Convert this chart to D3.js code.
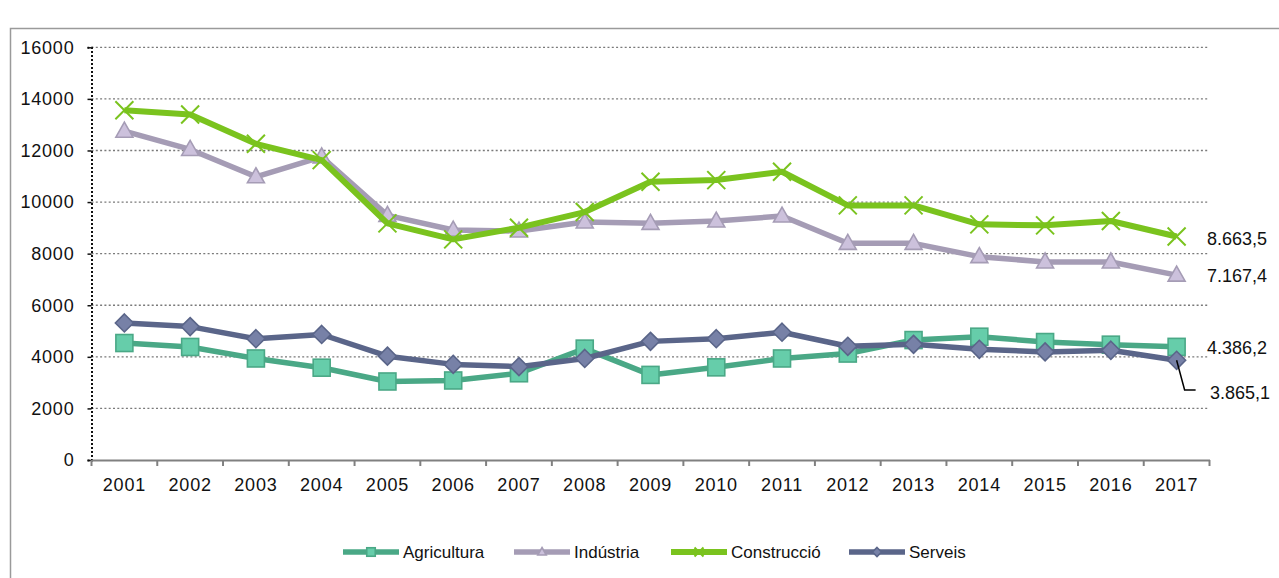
<!DOCTYPE html>
<html>
<head>
<meta charset="utf-8">
<script src="https://cdn.jsdelivr.net/npm/d3@7"></script>
<style>
  html, body { margin: 0; padding: 0; background: #fff; }
  svg { display: block; }
</style>
</head>
<body>
<svg id="chart" width="1279" height="578"></svg>
<script>
const years = ["2001","2002","2003","2004","2005","2006","2007","2008","2009","2010","2011","2012","2013","2014","2015","2016","2017"];
const agricultura = [4535, 4382, 3936, 3579, 3044, 3083, 3363, 4318, 3299, 3592, 3936, 4127, 4650, 4780, 4573, 4471, 4386.2];
const industria   = [12748, 12039, 10981, 11750, 9484, 8916, 8877, 9226, 9174, 9265, 9458, 8400, 8400, 7884, 7677, 7677, 7167.4];
const construccio = [13561, 13394, 12258, 11626, 9174, 8555, 9006, 9613, 10787, 10852, 11174, 9871, 9871, 9135, 9097, 9265, 8663.5];
const serveis     = [5312, 5172, 4701, 4866, 4025, 3707, 3618, 3936, 4599, 4701, 4955, 4408, 4484, 4293, 4191, 4255, 3865.1];
const yTicks = [0, 2000, 4000, 6000, 8000, 10000, 12000, 14000, 16000];
const seriesNames = ["Agricultura", "Indústria", "Construcció", "Serveis"];
const endLabels = ["4.386,2", "7.167,4", "8.663,5", "3.865,1"];

const svg = d3.select("#chart");
const FONT = "'Liberation Sans', Arial, sans-serif";

// outer frame
svg.append("rect").attr("x", 10.5).attr("y", 28.5).attr("width", 1300).attr("height", 600)
  .attr("fill", "none").attr("stroke", "#9a9a9a").attr("stroke-width", 1.5);

const x = d3.scaleBand().domain(years).range([91.5, 1209.5]);
const y = d3.scaleLinear().domain([0, 16000]).range([460, 47.3]);
const cx = d => x(d) + x.bandwidth() / 2;

// gridlines
svg.append("g").selectAll("line").data(yTicks.filter(t => t > 0)).join("line")
  .attr("x1", 91.5).attr("x2", 1209.5)
  .attr("y1", d => y(d)).attr("y2", d => y(d))
  .attr("stroke", "#7a7a7a").attr("stroke-width", 1.3).attr("stroke-dasharray", "2,2.3");

// y axis (dotted)
const yAxis = svg.append("g").attr("transform", "translate(91.5,0)")
  .call(d3.axisLeft(y).tickValues(yTicks).tickSize(4).tickPadding(13).tickFormat(d3.format("d")));
yAxis.select(".domain").attr("stroke", "#111").attr("stroke-width", 2).attr("stroke-dasharray", "2,2");
yAxis.selectAll(".tick line").attr("stroke", "#111").attr("stroke-width", 1.5);
yAxis.selectAll("text").attr("font-family", FONT).attr("font-size", 18).attr("letter-spacing", "0.8px").attr("fill", "#111");

// x axis
const xAxis = svg.append("g").attr("transform", "translate(0,460)")
  .call(d3.axisBottom(x).tickSize(0).tickPadding(18));
xAxis.select(".domain").attr("stroke", "#808080").attr("stroke-width", 2);
xAxis.selectAll("text").attr("font-family", FONT).attr("font-size", 18).attr("letter-spacing", "0.8px").attr("fill", "#111");
// boundary ticks
svg.append("g").selectAll("line").data(d3.range(years.length + 1)).join("line")
  .attr("x1", i => 91.5 + i * x.step()).attr("x2", i => 91.5 + i * x.step())
  .attr("y1", 460).attr("y2", 466).attr("stroke", "#808080").attr("stroke-width", 2);

// series
const series = [
  { name: seriesNames[0], values: agricultura, line: "#4aa886", fill: "#66cdaa", stroke: "#4aa886", marker: "square", w: 5.5 },
  { name: seriesNames[1], values: industria, line: "#a59cb5", fill: "#ccc1dc", stroke: "#a59cb5", marker: "triangle", w: 5.5 },
  { name: seriesNames[2], values: construccio, line: "#7ac31e", fill: "none", stroke: "#7ac31e", marker: "x", w: 6 },
  { name: seriesNames[3], values: serveis, line: "#5a6589", fill: "#7781a7", stroke: "#5a6589", marker: "diamond", w: 5.5 }
];

function drawMarker(g, type, fill, stroke, scale) {
  const s = scale || 1;
  if (type === "square") {
    g.append("rect").attr("x", -8.5 * s).attr("y", -8.5 * s).attr("width", 17 * s).attr("height", 17 * s)
      .attr("fill", fill).attr("stroke", stroke).attr("stroke-width", 1.6);
  } else if (type === "triangle") {
    g.append("path").attr("d", `M0,${-9 * s} L${8.5 * s},${6 * s} L${-8.5 * s},${6 * s} Z`)
      .attr("fill", fill).attr("stroke", stroke).attr("stroke-width", 1.6);
  } else if (type === "diamond") {
    g.append("path").attr("d", `M0,${-9 * s} L${9 * s},0 L0,${9 * s} L${-9 * s},0 Z`)
      .attr("fill", fill).attr("stroke", stroke).attr("stroke-width", 1.6);
  } else if (type === "x") {
    g.append("path").attr("d", `M${-9 * s},${-9 * s} L${9 * s},${9 * s} M${9 * s},${-9 * s} L${-9 * s},${9 * s}`)
      .attr("stroke", stroke).attr("stroke-width", 2);
  }
}

const line = d3.line().x((d, i) => cx(years[i])).y(d => y(d));
series.forEach(s => {
  const g = svg.append("g");
  g.append("path").datum(s.values).attr("d", line).attr("fill", "none")
    .attr("stroke", s.line).attr("stroke-width", s.w).attr("stroke-linejoin", "round");
  s.values.forEach((v, i) => {
    const mg = g.append("g").attr("transform", `translate(${cx(years[i])},${y(v)})`);
    drawMarker(mg, s.marker, s.fill, s.stroke, 1);
  });
});

// end labels
const last = years[years.length - 1];
const labelY = [y(agricultura[16]) + 1, y(industria[16]) + 1, y(construccio[16]) + 2, 392.5];
[0, 1, 2].forEach(k => {
  svg.append("text").attr("x", 1207).attr("y", labelY[k]).attr("dy", "0.35em")
    .attr("font-family", FONT).attr("font-size", 18).attr("fill", "#111").text(endLabels[k]);
});
// leader line for Serveis
const sx = cx(last), sy = y(serveis[16]);
svg.append("path").attr("d", `M${sx},${sy} L${sx + 8},${390} L${sx + 19},${390}`)
  .attr("fill", "none").attr("stroke", "#000").attr("stroke-width", 1.5);
svg.append("text").attr("x", 1210).attr("y", labelY[3]).attr("dy", "0.35em")
  .attr("font-family", FONT).attr("font-size", 18).attr("fill", "#111").text(endLabels[3]);

// legend
const legendX = [343, 514, 671, 849];
series.forEach((s, k) => {
  const g = svg.append("g").attr("transform", `translate(${legendX[k]},552)`);
  g.append("line").attr("x1", 0).attr("x2", 56).attr("y1", 0).attr("y2", 0)
    .attr("stroke", s.line).attr("stroke-width", s.w);
  const mg = g.append("g").attr("transform", "translate(28,0)");
  drawMarker(mg, s.marker, s.fill, s.stroke, 0.5);
  g.append("text").attr("x", 60).attr("y", 0).attr("dy", "0.35em")
    .attr("font-family", FONT)
    .attr("font-size", 17).attr("fill", "#111").text(s.name);
});
</script>
</body>
</html>
